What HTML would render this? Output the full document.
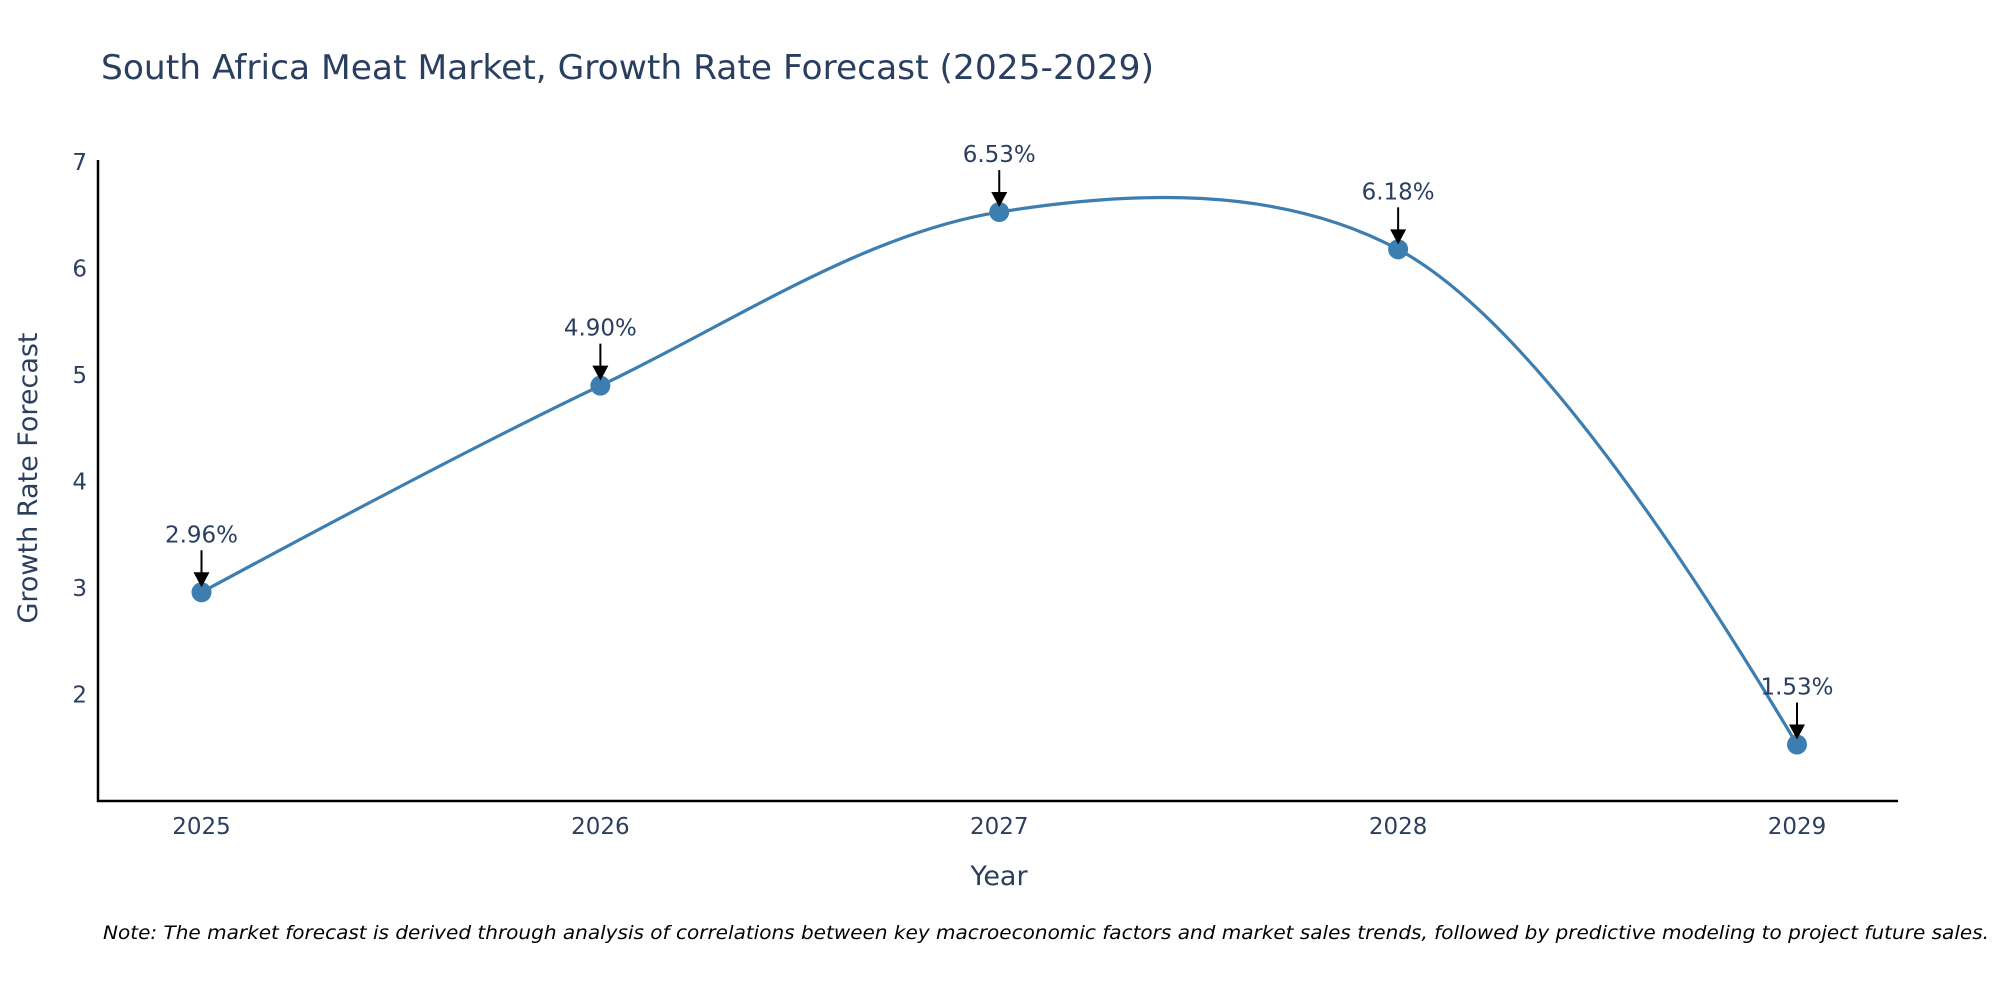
<!DOCTYPE html>
<html><head><meta charset="utf-8"><style>
body{margin:0;background:#fff;}
svg text{font-family:"DejaVu Sans","Liberation Sans",sans-serif;fill:#2a3f5f;}
</style></head><body>
<svg id="chart" width="2000" height="1000" xmlns="http://www.w3.org/2000/svg">
<text x="101" y="79" font-size="34" textLength="1053" lengthAdjust="spacingAndGlyphs">South Africa Meat Market, Growth Rate Forecast (2025-2029)</text>
<g id="plot"></g>
<line x1="98" y1="160" x2="98" y2="802" stroke="#000" stroke-width="2.5"/>
<line x1="97" y1="801" x2="1898" y2="801" stroke="#000" stroke-width="2.5"/>
<text transform="translate(37,478) rotate(-90)" text-anchor="middle" font-size="27">Growth Rate Forecast</text>
<text x="999" y="885" text-anchor="middle" font-size="27">Year</text>
<text x="103" y="939" font-size="19" font-style="italic" textLength="1886" lengthAdjust="spacingAndGlyphs" style="fill:#000">Note: The market forecast is derived through analysis of correlations between key macroeconomic factors and market sales trends, followed by predictive modeling to project future sales.</text>
</svg>
<script>
const years=[2025,2026,2027,2028,2029];
const values=[2.96,4.90,6.53,6.18,1.53];
const labels=["2.96%","4.90%","6.53%","6.18%","1.53%"];
const yTicks=[2,3,4,5,6,7];
const NS="http://www.w3.org/2000/svg";
const g=document.getElementById('plot');
const xs=v=>201.5+(v-2025)*(1797-201.5)/4;
const ys=v=>801-(v-1)*(801-162)/6;
function mk(t,a){const e=document.createElementNS(NS,t);for(const k in a)e.setAttribute(k,a[k]);g.appendChild(e);return e;}
yTicks.forEach(t=>{const e=mk('text',{x:87,y:ys(t)+8,'text-anchor':'end','font-size':23});e.textContent=t;

});
years.forEach(t=>{const e=mk('text',{x:xs(t),y:834,'text-anchor':'middle','font-size':23});e.textContent=t;

});
const pts=years.map((y,i)=>[xs(y),ys(values[i])]);
function tan(p,c,n){const d1x=p[0]-c[0],d1y=p[1]-c[1],d2x=n[0]-c[0],d2y=n[1]-c[1];
const d1a=Math.pow(d1x*d1x+d1y*d1y,0.25),d2a=Math.pow(d2x*d2x+d2y*d2y,0.25);
const nx=d2a*d2a*d1x-d1a*d1a*d2x,ny=d2a*d2a*d1y-d1a*d1a*d2y;
const a=3*d2a*(d1a+d2a),b=3*d1a*(d1a+d2a);
return [[c[0]+nx/a,c[1]+ny/a],[c[0]-nx/b,c[1]-ny/b]];}
const T=[];for(let i=1;i<pts.length-1;i++)T.push(tan(pts[i-1],pts[i],pts[i+1]));
let d=`M${pts[0]}Q${T[0][0]} ${pts[1]}`;
for(let i=2;i<pts.length-1;i++)d+=`C${T[i-2][1]} ${T[i-1][0]} ${pts[i]}`;
d+=`Q${T[T.length-1][1]} ${pts[pts.length-1]}`;
const ln=mk('path',{d:d,fill:'none',stroke:'#3d7eb0','stroke-width':3.2});


pts.forEach((p,i)=>{
const c=mk('circle',{cx:p[0],cy:p[1],r:10,fill:'#3d7eb0'});


const l=mk('line',{x1:p[0],y1:p[1]-42,x2:p[0],y2:p[1]-18,stroke:'#000','stroke-width':2});


const h=mk('polygon',{points:`${p[0]-8},${p[1]-20} ${p[0]+8},${p[1]-20} ${p[0]},${p[1]-5}`,fill:'#000'});


const t=mk('text',{x:p[0],y:p[1]-50,'text-anchor':'middle','font-size':23});t.textContent=labels[i];


});
</script>
</body></html>
